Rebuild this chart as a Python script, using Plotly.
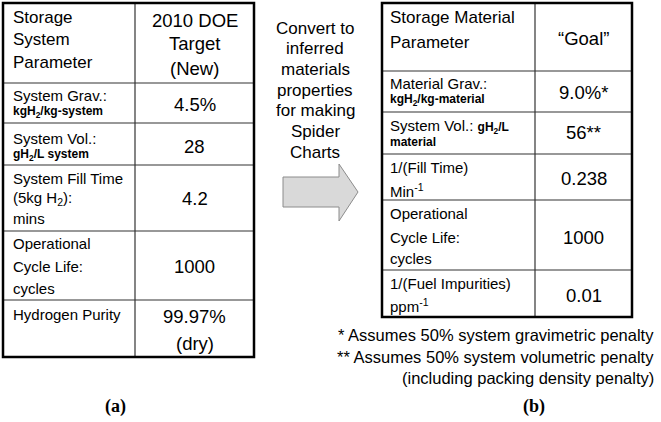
import plotly.graph_objects as go

# ---------------- data (text content) ----------------
left_param_lines = [
    ["Storage", "System", "Parameter"],
    ["System Grav.:", "<b>kgH<sub>2</sub>/kg-system</b>"],
    ["System Vol.:", "<b>gH<sub>2</sub>/L system</b>"],
    ["System Fill Time", "(5kg H<sub>2</sub>):", "mins"],
    ["Operational", "Cycle Life:", "cycles"],
    ["Hydrogen Purity"],
]
left_target_lines = [
    ["2010 DOE", "Target", "(New)"],
    ["4.5%"],
    ["28"],
    ["4.2"],
    ["1000"],
    ["99.97%", "(dry)"],
]
right_param_lines = [
    ["Storage Material", "Parameter"],
    ["Material Grav.:", "<b>kgH<sub>2</sub>/kg-material</b>"],
    ["System Vol.: <b><span style='font-size:12px'>gH<sub>2</sub>/L</span></b>", "<b>material</b>"],
    ["1/(Fill Time)", "Min<sup>-1</sup>"],
    ["Operational", "Cycle Life:", "cycles"],
    ["1/(Fuel Impurities)", "ppm<sup>-1</sup>"],
]
right_goal_lines = [
    ["\u201cGoal\u201d"],
    ["9.0%*"],
    ["56**"],
    ["0.238"],
    ["1000"],
    ["0.01"],
]
arrow_text = ["Convert to", "inferred", "materials", "properties", "for making", "Spider", "Charts"]
footnotes = ["* Assumes 50% system gravimetric penalty",
             "** Assumes 50% system volumetric penalty",
             "(including packing density penalty)"]
panel_labels = ["(a)", "(b)"]

# ---------------- layout geometry ----------------
W, H = 661, 422
L_x0, L_xm, L_x1 = 3, 135, 254
L_rows = [3, 83, 123, 165, 231, 300, 357]
R_x0, R_xm, R_x1 = 382, 535, 632
R_rows = [3, 71, 112, 154, 200, 270, 317]

left_param_y = [[17, 39, 62], [95, 112], [138, 155], [178, 198, 218], [243, 266, 288], [314]]
left_target_y = [[20, 43, 68], [104], [146], [198], [266], [316, 343]]
right_param_y = [[17, 42], [83, 100], [126, 142], [167, 190], [213, 237, 258], [283, 305]]
right_goal_y = [[38], [92], [132], [178], [237], [295]]

FONT = "Liberation Sans, Arial, sans-serif"
annotations = []
shapes = []


def add_text(x, y, text, size, anchor="left", family=FONT):
    weight = "normal"
    if text.startswith("<b>") and text.endswith("</b>"):
        text = text[3:-4]
        weight = "bold"
    annotations.append(dict(x=x, y=y, xref="x", yref="y", text=text, showarrow=False,
                            xanchor=anchor, yanchor="middle",
                            font=dict(family=family, size=size, color="black", weight=weight)))


def line_size(i, txt, header_size, body_size):
    if txt.startswith("<b>"):
        return 12
    return header_size if i == 0 else body_size


for i, (lines, ys) in enumerate(zip(left_param_lines, left_param_y)):
    for t, y in zip(lines, ys):
        add_text(L_x0 + 8, y, t, line_size(i, t, 17, 15))
for i, (lines, ys) in enumerate(zip(left_target_lines, left_target_y)):
    for t, y in zip(lines, ys):
        add_text((L_xm + L_x1) / 2, y, t, 18.5, anchor="center")
for i, (lines, ys) in enumerate(zip(right_param_lines, right_param_y)):
    for t, y in zip(lines, ys):
        add_text(R_x0 + 6, y, t, line_size(i, t, 17, 15))
for i, (lines, ys) in enumerate(zip(right_goal_lines, right_goal_y)):
    for t, y in zip(lines, ys):
        add_text((R_xm + R_x1) / 2, y, t, 18.5, anchor="center")

for k, t in enumerate(arrow_text):
    add_text(315, 28 + k * 20.7, t, 17, anchor="center")

for k, t in enumerate(footnotes):
    add_text(656, 335 + k * 21.5, t, 16.5, anchor="right")

add_text(115, 406, "<b>" + panel_labels[0] + "</b>", 18, anchor="center",
         family="Liberation Serif, Times New Roman, serif")
add_text(534, 406, "<b>" + panel_labels[1] + "</b>", 18, anchor="center",
         family="Liberation Serif, Times New Roman, serif")


def table_shapes(x0, xm, x1, rows):
    for r in rows[1:-1]:
        shapes.append(dict(type="line", x0=x0, x1=x1, y0=r, y1=r, xref="x", yref="y",
                           line=dict(color="#333333", width=1.2)))
    shapes.append(dict(type="line", x0=xm, x1=xm, y0=rows[0], y1=rows[-1], xref="x", yref="y",
                       line=dict(color="#333333", width=1.2)))
    shapes.append(dict(type="rect", x0=x0, x1=x1, y0=rows[0], y1=rows[-1], xref="x", yref="y",
                       line=dict(color="black", width=2.5)))


table_shapes(L_x0, L_xm, L_x1, L_rows)
table_shapes(R_x0, R_xm, R_x1, R_rows)

# block arrow
shapes.append(dict(type="path", xref="x", yref="y",
                   path="M 283 177 L 339 177 L 339 164 L 358 192 L 339 221 L 339 207 L 283 207 Z",
                   fillcolor="#d9d9d9", line=dict(color="#8c8c8c", width=1)))

fig = go.Figure()
fig.add_trace(go.Scatter(x=[0, W], y=[0, H], mode="markers", marker=dict(opacity=0),
                         hoverinfo="skip", showlegend=False))
fig.update_layout(
    width=W, height=H, margin=dict(l=0, r=0, t=0, b=0),
    paper_bgcolor="white", plot_bgcolor="white",
    xaxis=dict(range=[0, W], visible=False, fixedrange=True),
    yaxis=dict(range=[H, 0], visible=False, fixedrange=True),
    annotations=annotations, shapes=shapes, showlegend=False,
)
fig.write_html("out.html", config={"displayModeBar": False},
               post_script="document.body.style.margin='0px';document.body.style.overflow='hidden';")
